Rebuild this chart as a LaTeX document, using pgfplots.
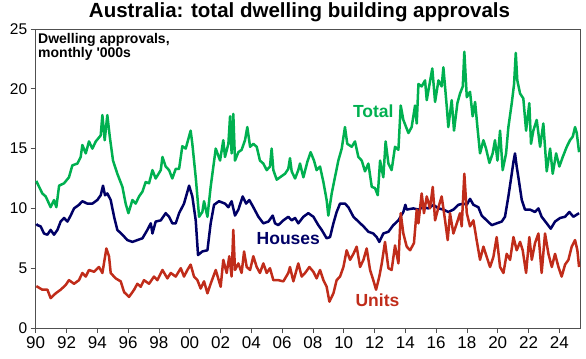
\documentclass[border=0pt]{standalone}
\usepackage{fontspec}
\setmainfont{Liberation Sans}
\usepackage{pgfplots}
\pgfplotsset{compat=1.18}
\definecolor{tgreen}{RGB}{0,176,80}
\definecolor{hnavy}{RGB}{0,0,102}
\definecolor{ured}{RGB}{192,44,26}
\definecolor{frame}{RGB}{80,80,80}
\begin{document}
\begin{tikzpicture}
\useasboundingbox (0,0) rectangle (586bp,359bp);
\node[font=\bfseries\fontsize{20.5bp}{24bp}\selectfont, anchor=center, inner sep=0] at (299.5bp,347bp) {Australia: total dwelling building approvals};
\begin{axis}[
  at={(35.7bp,31bp)}, anchor=south west,
  scale only axis, width=544.6bp, height=299bp,
  xmin=1990, xmax=2025.36, ymin=0, ymax=25,
  axis line style={frame, line width=0.8bp},
  xtick={1990,1992,...,2024},
  xticklabels={90,92,94,96,98,00,02,04,06,08,10,12,14,16,18,20,22,24},
  ytick={0,5,10,15,20,25},
  tick align=outside, major tick length=5bp,
  tick style={frame, line width=0.8bp},
  xtick pos=bottom, ytick pos=left,
  /pgf/number format/assume math mode=true,
  xticklabel style={font=\fontsize{17bp}{20bp}\selectfont},
  yticklabel style={font=\fontsize{15.5bp}{18bp}\selectfont},
  clip=false,
  every axis plot/.append style={line join=round},
]
\addplot[color=tgreen, line width=2.5bp] coordinates {
(1990.04,12.3)(1990.11,12.1)(1990.43,11.25)(1990.65,11.0)(1990.97,10.1)(1991.19,10.7)(1991.34,10.1)(1991.52,11.9)(1991.84,12.1)
(1992.16,12.6)(1992.38,13.6)(1992.71,13.75)(1992.92,14.3)(1993.03,15.3)(1993.25,14.6)(1993.46,15.6)(1993.68,15.0)(1993.90,15.6)
(1994.22,16.1)(1994.33,17.8)(1994.48,15.7)(1994.65,17.8)(1994.81,16.0)(1995.02,14.0)(1995.30,12.9)(1995.63,11.8)(1995.84,10.4)
(1996.02,9.6)(1996.28,10.7)(1996.49,10.4)(1996.71,11.0)(1996.93,11.4)(1997.14,12.2)(1997.36,12.1)(1997.58,13.2)(1997.79,12.5)
(1998.12,13.2)(1998.23,14.3)(1998.44,13.5)(1998.66,13.2)(1998.87,12.5)(1999.09,13.3)(1999.31,13.3)(1999.52,15.2)(1999.74,15.0)
(2000.06,16.5)(2000.17,15.4)(2000.39,12.6)(2000.61,9.3)(2000.82,9.7)(2000.93,10.6)(2001.15,9.3)(2001.36,11.8)(2001.69,15.0)
(2001.97,14.0)(2002.18,15.7)(2002.29,14.3)(2002.51,15.4)(2002.62,17.7)(2002.72,14.6)(2002.83,17.9)(2002.94,14.0)(2003.16,14.7)
(2003.37,14.9)(2003.59,15.7)(2003.74,16.8)(2003.92,15.15)(2004.13,15.4)(2004.35,15.15)(2004.56,14.0)(2004.78,13.75)(2005.00,13.2)
(2005.21,13.5)(2005.32,15.0)(2005.43,13.2)(2005.65,12.4)(2005.86,12.6)(2006.19,12.9)(2006.40,13.3)(2006.51,14.2)(2006.62,13.1)
(2006.84,12.5)(2007.05,13.2)(2007.16,13.75)(2007.38,12.6)(2007.64,13.9)(2007.85,14.7)(2008.07,14.0)(2008.24,13.2)(2008.46,13.5)
(2008.68,12.2)(2008.89,10.7)(2009.00,9.4)(2009.22,11.25)(2009.43,12.6)(2009.65,14.0)(2009.87,15.0)(2010.08,16.8)(2010.23,15.4)
(2010.52,15.15)(2010.73,15.6)(2010.95,14.3)(2011.17,14.0)(2011.38,13.1)(2011.60,13.75)(2011.82,11.8)(2012.03,11.7)(2012.21,11.1)
(2012.36,14.0)(2012.57,12.6)(2012.72,15.6)(2012.90,13.75)(2013.11,13.2)(2013.33,15.15)(2013.55,14.9)(2013.70,18.6)(2013.87,17.4)
(2014.05,16.8)(2014.20,16.3)(2014.41,16.8)(2014.63,18.6)(2014.74,17.1)(2014.85,20.4)(2015.06,20.2)(2015.28,20.7)(2015.39,19.05)
(2015.60,20.6)(2015.75,21.7)(2015.93,18.9)(2016.15,20.7)(2016.36,20.2)(2016.47,21.8)(2016.69,18.5)(2016.79,16.8)(2017.01,19.05)
(2017.16,16.5)(2017.38,18.8)(2017.55,19.6)(2017.73,20.2)(2017.83,23.1)(2017.99,19.3)(2018.20,19.75)(2018.37,17.7)(2018.53,18.9)
(2018.68,16.8)(2018.85,14.6)(2019.07,15.7)(2019.24,15.0)(2019.46,13.8)(2019.67,14.6)(2019.82,15.7)(2019.98,14.0)(2020.15,16.5)
(2020.32,13.2)(2020.54,14.6)(2020.69,16.8)(2020.91,18.8)(2021.06,20.4)(2021.17,23.0)(2021.27,20.7)(2021.45,19.6)(2021.66,19.2)
(2021.84,16.5)(2022.05,18.8)(2022.16,15.4)(2022.31,16.5)(2022.53,17.4)(2022.75,15.15)(2022.96,17.1)(2023.18,13.1)(2023.40,15.0)
(2023.57,12.9)(2023.79,14.6)(2024.00,13.5)(2024.22,14.3)(2024.48,15.15)(2024.69,15.7)(2024.87,16.0)(2025.02,16.8)(2025.13,16.3)
(2025.28,14.7)
};
\addplot[color=hnavy, line width=2.5bp] coordinates {
(1990.04,8.7)(1990.11,8.6)(1990.32,8.5)(1990.54,7.9)(1990.76,7.8)(1990.97,8.2)(1991.19,7.8)(1991.41,8.2)(1991.62,8.9)(1991.84,9.2)
(1992.06,8.9)(1992.27,9.4)(1992.49,10.0)(1992.81,10.3)(1993.03,10.6)(1993.35,10.4)(1993.68,10.4)(1994.00,10.7)(1994.22,11.1)
(1994.37,11.9)(1994.50,11.1)(1994.65,11.25)(1994.87,10.7)(1995.09,9.3)(1995.30,8.2)(1995.63,7.8)(1995.95,7.35)(1996.28,7.2)
(1996.60,7.35)(1996.93,7.5)(1997.25,8.2)(1997.47,8.75)(1997.58,7.9)(1997.79,8.9)(1998.12,9.0)(1998.44,9.6)(1998.66,9.3)
(1998.87,8.75)(1999.09,8.75)(1999.31,9.6)(1999.63,10.4)(1999.96,11.9)(2000.17,11.0)(2000.39,9.0)(2000.54,6.1)(2000.82,6.4)
(2001.15,6.5)(2001.36,8.75)(2001.58,10.3)(2001.90,10.6)(2002.29,10.4)(2002.51,10.1)(2002.72,10.6)(2002.94,9.4)(2003.16,9.9)
(2003.44,11.0)(2003.66,10.4)(2003.87,10.7)(2004.13,10.1)(2004.46,9.3)(2004.78,8.75)(2005.11,8.9)(2005.39,9.4)(2005.54,8.75)
(2005.75,8.6)(2006.08,9.0)(2006.40,9.3)(2006.62,9.0)(2006.84,9.2)(2007.05,8.75)(2007.38,9.3)(2007.70,9.6)(2008.03,9.3)
(2008.35,8.6)(2008.57,8.2)(2008.89,7.5)(2009.11,7.6)(2009.33,8.75)(2009.54,9.7)(2009.76,10.4)(2010.08,10.4)(2010.30,10.1)
(2010.63,9.3)(2010.95,8.9)(2011.28,8.5)(2011.60,8.05)(2011.92,7.9)(2012.14,7.6)(2012.31,7.2)(2012.57,7.9)(2012.90,8.05)
(2013.22,8.6)(2013.55,9.0)(2013.87,9.7)(2014.00,10.3)(2014.09,9.9)(2014.52,10.0)(2014.85,9.9)(2015.17,10.1)(2015.50,10.0)
(2015.82,10.3)(2016.15,10.0)(2016.47,9.9)(2016.79,9.7)(2017.12,9.9)(2017.44,10.3)(2017.77,10.4)(2017.99,10.3)(2018.20,10.8)
(2018.42,10.3)(2018.74,10.1)(2018.96,9.4)(2019.28,9.0)(2019.61,8.6)(2019.93,8.75)(2020.26,8.9)(2020.47,9.3)(2020.69,11.0)
(2020.91,12.9)(2021.02,13.9)(2021.12,14.6)(2021.23,13.5)(2021.34,12.6)(2021.56,10.7)(2021.77,9.9)(2022.10,9.9)(2022.42,9.7)
(2022.64,10.0)(2022.85,9.3)(2023.18,8.75)(2023.44,8.3)(2023.72,8.9)(2024.05,9.2)(2024.37,9.3)(2024.65,9.7)(2024.91,9.3)
(2025.28,9.6)
};
\addplot[color=ured, line width=2.5bp] coordinates {
(1990.04,3.5)(1990.11,3.45)(1990.43,3.2)(1990.76,3.2)(1990.97,2.5)(1991.30,2.9)(1991.62,3.2)(1991.95,3.6)(1992.16,4.0)
(1992.49,3.7)(1992.81,4.0)(1993.03,4.6)(1993.25,4.3)(1993.46,4.85)(1993.79,4.7)(1994.11,5.1)(1994.33,4.6)(1994.59,6.65)
(1994.76,6.0)(1994.87,4.6)(1995.19,4.15)(1995.52,3.9)(1995.74,3.0)(1996.06,2.6)(1996.39,3.2)(1996.60,3.7)(1996.82,3.45)
(1997.03,4.0)(1997.36,3.7)(1997.68,4.3)(1997.90,4.0)(1998.23,4.85)(1998.55,4.15)(1998.77,4.6)(1999.09,4.3)(1999.42,5.0)
(1999.63,4.3)(1999.85,4.85)(2000.06,5.3)(2000.28,4.3)(2000.50,4.0)(2000.71,3.3)(2000.93,3.9)(2001.15,2.9)(2001.36,3.7)
(2001.69,4.85)(2002.01,3.45)(2002.18,5.7)(2002.40,4.6)(2002.57,6.0)(2002.72,4.3)(2002.83,8.2)(2002.94,4.85)(2003.16,5.4)
(2003.37,4.6)(2003.53,6.4)(2003.70,5.1)(2003.92,4.85)(2004.13,6.0)(2004.35,5.1)(2004.56,4.6)(2004.78,5.4)(2005.00,4.6)
(2005.21,5.0)(2005.43,4.0)(2005.75,4.0)(2006.08,3.9)(2006.40,4.6)(2006.51,5.1)(2006.73,3.9)(2007.05,5.4)(2007.27,4.3)
(2007.49,4.6)(2007.77,5.1)(2008.03,4.7)(2008.24,4.15)(2008.46,4.85)(2008.68,4.0)(2008.89,3.45)(2009.07,2.2)(2009.33,2.9)
(2009.54,4.0)(2009.76,4.3)(2009.98,5.1)(2010.19,6.5)(2010.41,5.7)(2010.63,6.2)(2010.84,6.8)(2011.06,5.1)(2011.28,5.7)
(2011.49,6.65)(2011.71,4.85)(2011.92,4.0)(2012.10,3.2)(2012.31,4.3)(2012.47,5.4)(2012.68,7.2)(2012.90,5.0)(2013.11,4.85)
(2013.33,6.9)(2013.55,5.4)(2013.70,9.6)(2013.87,7.9)(2014.09,6.8)(2014.31,6.5)(2014.56,7.1)(2014.74,9.9)(2014.85,8.75)
(2015.06,11.25)(2015.21,9.6)(2015.39,11.0)(2015.60,10.0)(2015.78,11.8)(2015.93,9.0)(2016.15,10.1)(2016.36,11.0)(2016.58,9.0)
(2016.75,7.35)(2016.90,9.6)(2017.12,7.9)(2017.34,8.75)(2017.55,9.6)(2017.66,8.5)(2017.83,12.9)(2017.99,9.6)(2018.20,8.5)
(2018.42,9.0)(2018.63,7.35)(2018.85,5.7)(2019.07,6.8)(2019.28,5.96)(2019.50,5.1)(2019.72,5.96)(2019.93,7.6)(2020.15,5.1)
(2020.37,4.6)(2020.58,6.2)(2020.80,5.7)(2021.02,7.6)(2021.23,6.5)(2021.45,7.2)(2021.62,6.5)(2021.84,4.6)(2022.05,7.6)
(2022.21,5.7)(2022.42,7.1)(2022.64,7.9)(2022.85,4.6)(2023.07,7.9)(2023.29,6.2)(2023.51,5.1)(2023.72,6.2)(2023.94,5.1)
(2024.15,4.3)(2024.37,5.3)(2024.59,5.7)(2024.80,6.8)(2025.02,7.35)(2025.17,6.5)(2025.28,5.1)
};
\node[font=\bfseries\fontsize{17.5bp}{20bp}\selectfont, text=tgreen, inner sep=0] at (axis cs:2011.92,18.1) {Total};
\node[font=\bfseries\fontsize{17.5bp}{20bp}\selectfont, text=hnavy, inner sep=0] at (axis cs:2006.40,7.44) {Houses};
\node[font=\bfseries\fontsize{17.5bp}{20bp}\selectfont, text=ured, inner sep=0] at (axis cs:2012.19,2.3) {Units};
\end{axis}
\node[font=\bfseries\fontsize{14bp}{11.5bp}\selectfont, anchor=north west, inner sep=0, align=left] at (38bp,326bp) {Dwelling approvals,\\monthly \textquotesingle000s};
\end{tikzpicture}
\end{document}
